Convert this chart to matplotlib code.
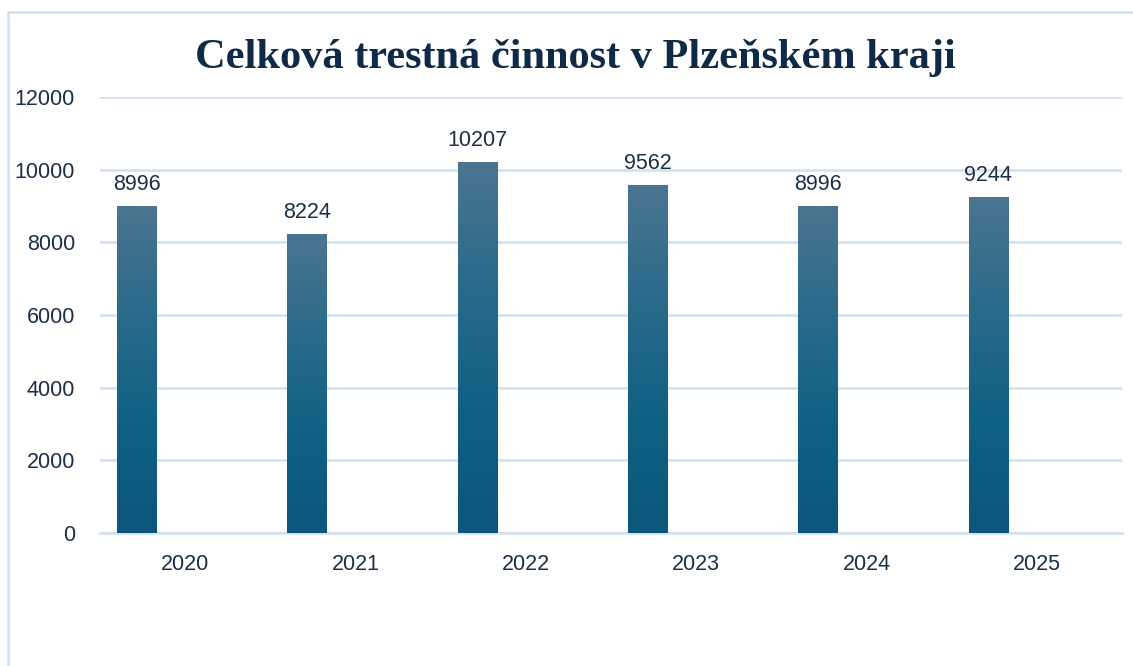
import numpy as np
import matplotlib.pyplot as plt
from matplotlib.colors import LinearSegmentedColormap
from matplotlib.patches import Rectangle

years = ['2020', '2021', '2022', '2023', '2024', '2025']
crimes = [8996, 8224, 10207, 9562, 8996, 9244]

grid_color = '#cfe0f3'
text_color = '#1b2f47'

fig = plt.figure(figsize=(11.33, 6.66), dpi=100)
fig.patch.set_facecolor('white')

# outer chart frame (right and bottom edges cut off)
fig.patches.append(Rectangle((8 / 1133, -0.1), 1.2, 1.1 - 12 / 666,
                             transform=fig.transFigure, fill=False,
                             edgecolor=grid_color, linewidth=1.8))

ax = fig.add_axes([100 / 1133, 133 / 666, 1022 / 1133, 436 / 666])

cmap = LinearSegmentedColormap.from_list('bar', ['#0b567a', '#0f6184', '#2a6a8b', '#4b7590'])
grad = np.linspace(0, 1, 256).reshape(-1, 1)

offset = -0.285
width = 0.229
x = np.arange(len(years))
for xi, val in zip(x, crimes):
    left = xi + offset - width / 2
    ax.imshow(grad, cmap=cmap, origin='lower', aspect='auto',
              extent=(left, left + width, 0, val), zorder=3)
    ax.annotate(str(val), (xi + offset, val), xytext=(0, 8), textcoords='offset points',
                ha='center', va='bottom', fontsize=15.5, color=text_color,
                family='Liberation Sans')

ax.set_xlim(-0.5, 5.5)
ax.set_ylim(0, 12000)
ax.set_xticks(x)
ax.set_xticklabels(years)
ax.set_yticks(np.arange(0, 12001, 2000))
ax.tick_params(length=0, labelsize=15.5, labelcolor=text_color)
ax.tick_params(axis='x', pad=15)
ax.tick_params(axis='y', pad=18)
for lab in ax.get_xticklabels() + ax.get_yticklabels():
    lab.set_family('Liberation Sans')
ax.grid(axis='y', color=grid_color, linewidth=1.8, zorder=0)
ax.set_axisbelow(True)
for s in ['top', 'right', 'left']:
    ax.spines[s].set_visible(False)
ax.spines['bottom'].set_color(grid_color)
ax.spines['bottom'].set_linewidth(1.8)

fig.text(575 / 1133, 1 - 58 / 666, 'Celková trestná činnost v Plzeňském kraji',
         ha='center', va='center', fontsize=30.5, fontweight='bold',
         family='Liberation Serif', color='#0f2a47')

fig.savefig('out.png', dpi=100)
